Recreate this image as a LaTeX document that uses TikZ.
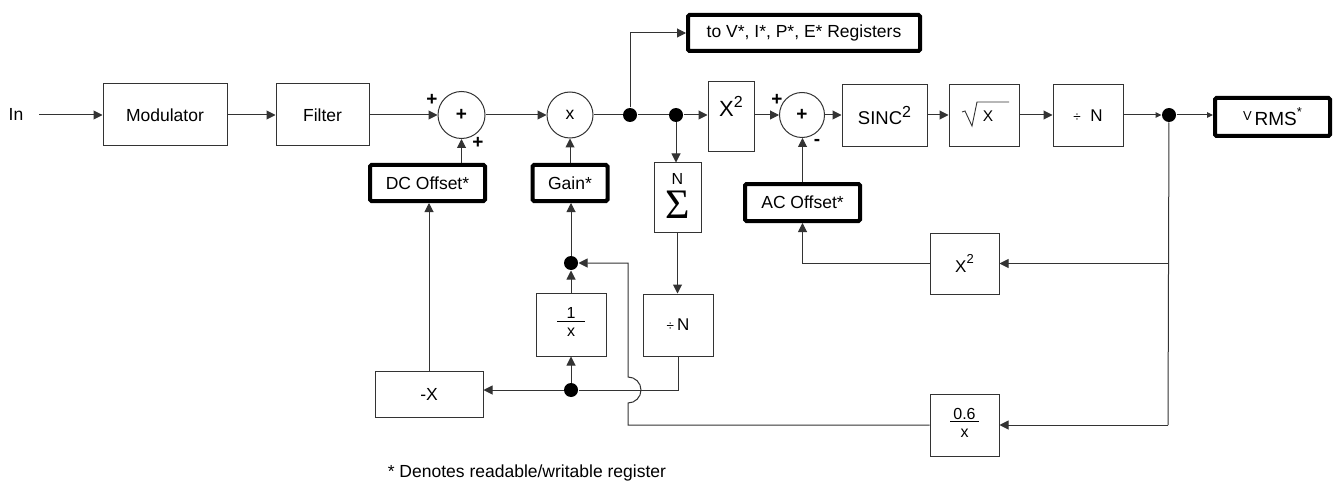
\documentclass[tikz,border=0pt]{standalone}
\usepackage{fontspec}
\setmainfont{Liberation Sans}
\newfontfamily\seriffont{Liberation Serif}
\usetikzlibrary{arrows.meta,calc}
\begin{document}
\begin{tikzpicture}[x=1pt,y=-1pt,
  font=\fontsize{17.5}{20}\selectfont,
  line width=1pt, draw=black!80,
  blk/.style={draw=black!80, line width=1pt, inner sep=0pt},
  reg/.style={draw=black, line width=4pt, rounded corners=1.5pt, inner sep=0pt},
  sumc/.style={circle, draw=black!80, line width=1pt, minimum size=46pt, inner sep=0pt},
  jdot/.style={circle, fill=black, inner sep=0pt, minimum size=14pt},
  arr/.style={-{Triangle[length=9pt,width=9pt]}},
  sarr/.style={-{Triangle[length=6pt,width=5.5pt]}},
  sgn/.style={font=\fontsize{19}{19}\selectfont\bfseries, inner sep=0pt}
]
\useasboundingbox (0,0) rectangle (1336,484);

% main row
\node (inlbl) at (16,114) {In};
\coordinate (instart) at (39,115);
\node[blk, minimum width=124pt, minimum height=62pt] (mod) at (165,115) {Modulator};
\node[blk, minimum width=93pt, minimum height=62pt] (fil) at (322.5,115) {Filter};
\node[sumc, minimum size=47pt] (s1) at (461.5,115) {\fontsize{19}{19}\selectfont\bfseries +};
\node[sumc] (mul) at (570,115) {x};
\node[jdot] (d1) at (630,115) {};
\node[jdot] (d2) at (676,115) {};
\node[blk, minimum width=46pt, minimum height=70pt] (xsq) at (731,117)
  {\fontsize{22}{22}\selectfont X\raisebox{9pt}{\fontsize{16}{16}\selectfont 2}\rule[-22pt]{0pt}{22pt}};
\node[sumc, minimum size=45pt] (s2) at (802,115) {\fontsize{19}{19}\selectfont\bfseries +};
\node[blk, minimum width=85pt, minimum height=62pt] (sinc) at (884.5,116)
  {\fontsize{18.5}{19}\selectfont SINC\raisebox{7pt}{\fontsize{16}{16}\selectfont 2}};
\node[blk, minimum width=70pt, minimum height=62pt] (sqrtb) at (984,116)
  {\fontsize{15.5}{16}\selectfont\hspace*{8pt}X};
\node[blk, minimum width=70pt, minimum height=62pt] (divn) at (1088,116)
  {{\fontsize{13.5}{13}\selectfont ÷}\ \ \fontsize{17}{18}\selectfont N};
\node[jdot] (d3) at (1169,115) {};
\node[reg, minimum width=115pt, minimum height=38pt] (vrms) at (1272.5,117)
  {\raisebox{5pt}{\fontsize{13}{13}\selectfont V}\,\fontsize{19}{19}\selectfont RMS\raisebox{9pt}{\fontsize{13}{13}\selectfont *}};
\node[reg, minimum width=232pt, minimum height=36pt] (toreg) at (804,33)
  {to V*, I*, P*, E* Registers};

% second row
\node[reg, minimum width=115pt, minimum height=36pt] (dc) at (427.5,183) {DC Offset*};
\node[reg, minimum width=75pt, minimum height=36pt] (gain) at (570,183) {Gain*};
\node[blk, minimum width=47pt, minimum height=69pt] (sig) at (677.5,197.5)
  {\begin{tabular}{@{}c@{}}\fontsize{16}{16}\selectfont N\\[1pt]\seriffont\fontsize{42}{42}\selectfont Σ\end{tabular}};
\node[reg, minimum width=115pt, minimum height=37pt] (acoff) at (802.5,202.5) {AC Offset*};
\node[blk, minimum width=69pt, minimum height=61pt] (xsq2) at (964.5,263.5)
  {\fontsize{17}{17}\selectfont X\raisebox{9pt}{\fontsize{13}{13}\selectfont 2}};

% lower part
\node[jdot] (d4) at (571,263) {};
\node[blk, minimum width=70pt, minimum height=63pt] (inv) at (571,324.5)
  {\fontsize{16}{16}\selectfont\setlength\arrayrulewidth{0.9pt}\setlength\tabcolsep{9.5pt}\begin{tabular}{c}1\\[-3pt]\hline\rule{0pt}{15pt}x\end{tabular}};
\node[blk, minimum width=70pt, minimum height=62pt] (divn2) at (678,325)
  {{\fontsize{13.5}{13}\selectfont ÷}\,\fontsize{17}{18}\selectfont N};
\node[jdot] (d5) at (571,390) {};
\node[blk, minimum width=108pt, minimum height=46pt] (negx) at (429,394) {-X};
\node[blk, minimum width=69pt, minimum height=62pt] (sixx) at (964.5,425)
  {\fontsize{16}{16}\selectfont\setlength\arrayrulewidth{0.9pt}\setlength\tabcolsep{3pt}\begin{tabular}{c}0.6\\[-3pt]\hline\rule{0pt}{15pt}x\end{tabular}};
\coordinate (jmp) at (628,390);
\coordinate (rline) at (1168,425);

\node[anchor=west] (note) at (384,473) {* Denotes readable/writable register};

% sign labels
\node[sgn] (p1) at (432,100) {+};
\node[sgn] (p2) at (478,143) {+};
\node[sgn] (p3) at (777,100) {+};
\node[sgn] (m1) at (817,142) {-};

% radical
\draw[line width=0.9pt] ($(sqrtb.center)+(-22,-4)$) -- ($(sqrtb.center)+(-19,-5)$)
  -- ($(sqrtb.center)+(-12,10)$) -- ($(sqrtb.center)+(-7,-14)$) -- ($(sqrtb.center)+(25,-14)$);

% main connectors
\draw[arr] (instart) -- (mod.west);
\draw[arr] (mod.east) -- (fil.west);
\draw[arr] (fil.east) -- (s1.west);
\draw[arr] (s1.east) -- (mul.west);
\draw (mul.east) -- (d1) -- (d2);
\draw[arr] (d2) -- (d2 -| xsq.west);
\draw[arr] (d2 -| xsq.east) -- (s2.west);
\draw[arr] (s2.east) -- (s2.east -| sinc.west);
\draw[arr] (s2.east -| sinc.east) -- (s2.east -| sqrtb.west);
\draw[arr] (s2.east -| sqrtb.east) -- (s2.east -| divn.west);
\draw[sarr] (s2.east -| divn.east) -- (d3);
\draw[sarr] (d3) -- (d3 -| vrms.west);
\draw[arr] (d1) -- (d1 |- toreg.west) -- (toreg.west);

% second row connectors
\draw[arr] (s1.south |- dc.north) -- (s1.south);
\draw[arr] (gain.north) -- (mul.south);
\draw[arr] (d2) -- (d2 |- sig.north);
\draw[arr] (sig.south) -- (sig.south |- divn2.north);
\draw[arr] (acoff.north) -- (acoff.north |- s2.south);

% feedback
\draw (d3) -- (rline);
\draw[arr] (d3 |- xsq2.east) -- (xsq2.east);
\draw[arr] (rline) -- (sixx.east);
\draw[arr] (xsq2.west) -- (xsq2.west -| acoff.south) -- (acoff.south);
\draw[arr] (sixx.west) -- (sixx.west -| jmp) -- ($(jmp)+(0,13)$)
  arc[start angle=-90, end angle=90, radius=13pt] -- (jmp |- d4) -- (d4);
\draw[arr] (d4) -- (d4 |- gain.south);
\draw[arr] (inv.north) -- (d4);
\draw[arr] (d5) -- (inv.south);
\draw[arr] (d5) -- (d5 -| negx.east);
\draw (divn2.south) -- (divn2.south |- d5) -- (d5);
\draw[arr] (negx.north) -- (negx.north |- dc.south);
\end{tikzpicture}
\end{document}
